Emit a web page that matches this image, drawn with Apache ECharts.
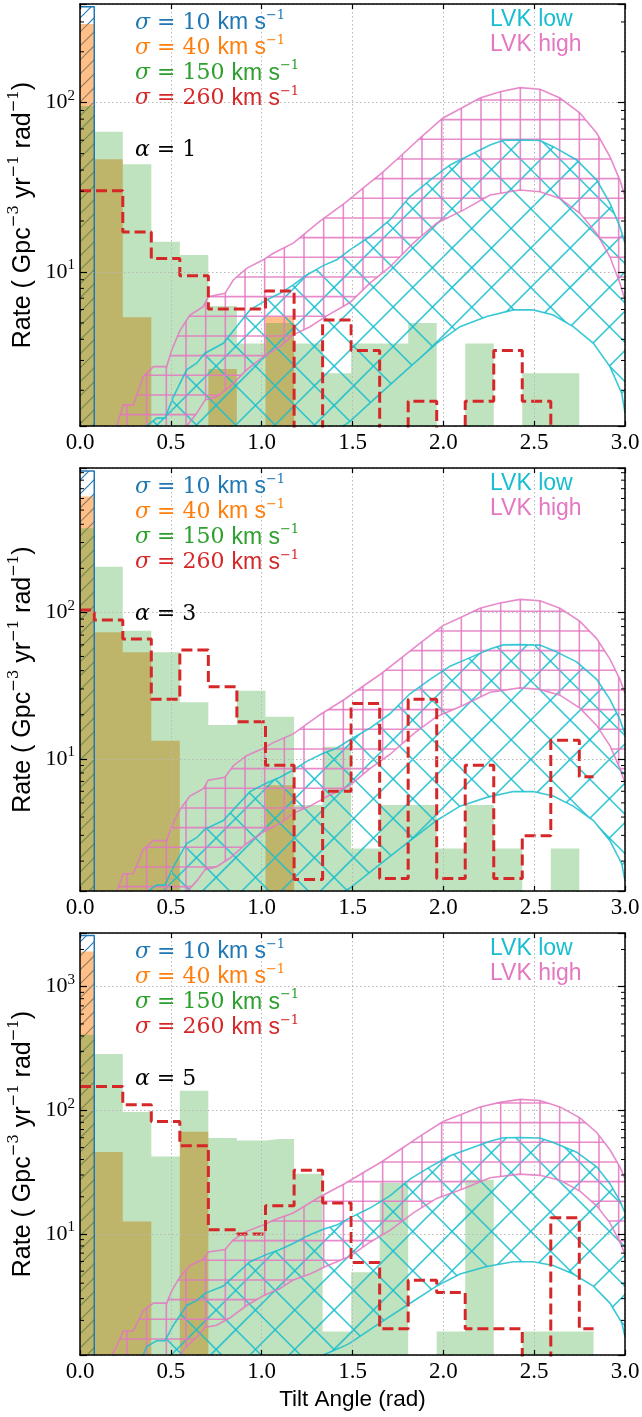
<!DOCTYPE html>
<html><head><meta charset="utf-8">
<script src="https://cdn.jsdelivr.net/npm/echarts@6/dist/echarts.min.js"></script>
<style>html,body{margin:0;padding:0;background:#fff}#c{width:642px;height:1417px}</style>
</head><body><div id="c"></div>
<script>
// ---------------- DATA ----------------
const binCenters = [0, 0.157, 0.314, 0.471, 0.628, 0.785, 0.942, 1.100, 1.257, 1.414, 1.571, 1.728, 1.885, 2.042, 2.199, 2.356, 2.513, 2.670, 2.827];
const sigmaValues = ['10', '40', '150', '260'];
const alphaValues = ['1', '3', '5'];
const yMinByPanel = [1.23, 1.25, 1.05];
const yMaxByPanel = [383, 969, 2718];
const minorTickValues = [2,3,4,5,6,7,8,9,20,30,40,50,60,70,80,90,200,300,400,500,600,700,800,900,2000];

// alpha = 1
const blueA1   = [369, 0,0,0,0,0,0,0,0,0,0,0,0,0,0,0,0,0,0];
const orangeA1 = [292, 46.3, 5.4, 0, 0, 2.67, 0, 5.44, 0,0,0,0,0,0,0,0,0,0,0];
const greenA1  = [95.6, 67.4, 43.3, 15.1, 12.6, 6.3, 3.78, 5.0, 3.78, 2.52, 3.78, 3.78, 5.0, 0, 3.78, 0, 2.52, 2.52, 0];
const redA1    = [30.2, 30.2, 17.2, 12.0, 9.5, 6.05, 6.05, 7.72, 0, 5.2, 3.43, 0, 1.72, 0, 1.72, 3.43, 1.72, 0, 0];
// alpha = 3
const blueA3   = [925, 0,0,0,0,0,0,0,0,0,0,0,0,0,0,0,0,0,0];
const orangeA3 = [618, 73.1, 53.4, 13.3, 0, 0, 0, 6.6, 0,0,0,0,0,0,0,0,0,0,0];
const greenA3  = [376, 205, 75, 53.4, 24.3, 17, 29.2, 19.4, 4.83, 12.1, 2.44, 4.83, 4.83, 2.44, 4.83, 2.44, 0, 2.44, 0];
const redA3    = [104, 88.7, 65.8, 25.5, 55.3, 31, 17.9, 9.05, 1.5, 6.01, 23.9, 1.52, 25.5, 1.52, 9.05, 1.52, 2.98, 13.4, 7.53];
// alpha = 5
const blueA5   = [2594, 0,0,0,0,0,0,0,0,0,0,0,0,0,0,0,0,0,0];
const orangeA5 = [1926, 46, 12.6, 0, 67.1, 0,0,0,0,0,0,0,0,0,0,0,0,0,0];
const greenA5  = [408, 285, 96.9, 42.4, 144, 59.7, 57.1, 58.6, 30.7, 1.63, 4.9, 25.8, 0, 1.63, 27.5, 0, 1.63, 1.63, 1.63];
const redA5    = [156, 156, 111, 81.3, 51.8, 10.8, 10.0, 16.9, 32.7, 17.8, 5.89, 1.71, 4.22, 3.37, 1.71, 1.71, 0, 13.5, 1.71];

// LVK bands (tilt angle, rate)
const lvkHighUpperX = [0.10, 0.174, 0.202, 0.238, 0.293, 0.349, 0.404, 0.477, 0.505, 0.55, 0.605, 0.679, 0.706, 0.798, 0.844, 0.917, 1.009, 1.064, 1.174, 1.321, 1.459, 1.558, 1.661, 1.771, 1.881, 1.998, 2.101, 2.202, 2.312, 2.422, 2.532, 2.642, 2.752, 2.844, 2.917, 2.972, 3.0];
const lvkHighUpperY = [0.5, 1.05, 1.23, 1.64, 1.64, 2.41, 2.76, 2.76, 3.46, 4.5, 5.57, 6.24, 7.15, 7.48, 8.97, 10.5, 11.8, 12.9, 14.8, 20, 25.6, 31.3, 38.4, 49.1, 63, 81.2, 93, 106.6, 116, 122.7, 120, 106.6, 86.9, 66.2, 48, 34.9, 28];
const lvkHighLowerX = [0.45, 0.55, 0.587, 0.642, 0.688, 0.752, 0.826, 0.917, 1.009, 1.101, 1.174, 1.266, 1.358, 1.486, 1.596, 1.706, 1.835, 1.963, 2.11, 2.257, 2.422, 2.532, 2.642, 2.752, 2.844, 2.917, 2.972, 3.0];
const lvkHighLowerY = [0.6, 1.05, 1.23, 1.46, 1.75, 1.83, 2.1, 2.64, 3.16, 3.62, 4.25, 4.75, 5.5, 6.6, 8.58, 10.7, 14.8, 19.4, 23.2, 28.5, 30.5, 29.8, 27.2, 22.2, 16.9, 12.3, 8.58, 6.84];
const lvkLowUpperX = [0.25, 0.348, 0.367, 0.422, 0.468, 0.514, 0.587, 0.642, 0.688, 0.789, 0.862, 0.936, 1.028, 1.101, 1.174, 1.248, 1.339, 1.413, 1.486, 1.596, 1.706, 1.816, 1.927, 2.037, 2.147, 2.257, 2.33, 2.42, 2.532, 2.605, 2.734, 2.844, 2.917, 2.972, 3.0];
const lvkLowUpperY = [0.6, 1.05, 1.23, 1.37, 1.37, 1.83, 2.64, 2.89, 3.31, 3.79, 4.75, 5.97, 6.84, 7.48, 8.38, 9.6, 10.9, 11.8, 13.5, 16.2, 20.3, 27.8, 34.9, 42.9, 49.1, 56.2, 60, 60.2, 59.8, 55, 45.9, 34.9, 25.5, 18.5, 14.8];
const lvkLowLowerX = [0.9, 1.1, 1.2, 1.339, 1.459, 1.486, 1.633, 1.798, 1.963, 2.092, 2.239, 2.385, 2.495, 2.605, 2.715, 2.826, 2.917, 2.982, 3.0];
const lvkLowLowerY = [0.45, 0.68, 0.8, 1.05, 1.25, 1.31, 1.83, 2.64, 3.79, 4.75, 5.45, 5.97, 5.97, 5.57, 4.75, 3.79, 2.76, 1.92, 1.47];

// ---------------- STYLE / LAYOUT ----------------
const panels = [
  {blue: blueA1, orange: orangeA1, green: greenA1, red: redA1},
  {blue: blueA3, orange: orangeA3, green: greenA3, red: redA3},
  {blue: blueA5, orange: orangeA5, green: greenA5, red: redA5}
];
const gridTops = [4, 468, 933];
const gridHeights = [422, 423, 422];
const GL = 80, GW = 545;
const sigmaColors = ['#1f77b4', '#ff7f0e', '#2ca02c', '#d62728'];
const SERIF = '"Liberation Serif", "DejaVu Serif", serif';
const MATH = '"DejaVu Serif", serif';
const SANS = '"Liberation Sans", Arial, sans-serif';

function makeTile(size, draw) {
  const c = document.createElement('canvas');
  c.width = size; c.height = size;
  const g = c.getContext('2d');
  draw(g);
  return {image: c, repeat: 'repeat'};
}
const P = 59 / 3;
const pinkHatch = makeTile(59, g => {
  g.strokeStyle = 'rgba(227,119,194,0.85)'; g.lineWidth = 1.6;
  for (let k = 0; k < 3; k++) {
    const x = 9.0 + k * P, y = 1.6 + k * P;
    g.beginPath(); g.moveTo(x, 0); g.lineTo(x, 59); g.stroke();
    g.beginPath(); g.moveTo(0, y); g.lineTo(59, y); g.stroke();
  }
});
const Q = 2 * P;
const cyanHatch = makeTile(118, g => {
  g.strokeStyle = 'rgba(23,190,207,0.85)'; g.lineWidth = 1.6;
  for (let k = -6; k <= 9; k++) {
    const c = 7.4 + k * Q;
    g.beginPath(); g.moveTo(-5, -5 - c); g.lineTo(123, 123 - c); g.stroke();
    const d = 31.5 + k * Q;
    g.beginPath(); g.moveTo(-5, d + 5); g.lineTo(123, d - 123); g.stroke();
  }
});
const blueHatch = makeTile(42, g => {
  g.strokeStyle = '#1f77b4'; g.lineWidth = 1.2;
  for (let k = -2; k <= 8; k++) {
    const d = k * 14;
    g.beginPath(); g.moveTo(-5, d + 5); g.lineTo(47, d - 47); g.stroke();
  }
});

const FLOOR = 0.01;
function stepData(vals) { return binCenters.map((c, i) => [c, vals[i] > 0 ? vals[i] : FLOOR]); }

function powLabel(v) {
  const e = Math.log10(v), r = Math.round(e);
  if (Math.abs(e - r) > 1e-6) return '';
  return '10{p|' + r + '}';
}

function lvkRender(params, api) {
  const cs = params.coordSys;
  const pts = (xs, ys) => xs.map((x, i) => api.coord([x, ys[i]]));
  const lu = pts(lvkLowUpperX, lvkLowUpperY), ll = pts(lvkLowLowerX, lvkLowLowerY);
  const hu = pts(lvkHighUpperX, lvkHighUpperY), hl = pts(lvkHighLowerX, lvkHighLowerY);
  const cyanLine = 'rgba(23,190,207,0.85)', pinkLine = 'rgba(227,119,194,0.85)';
  return {
    type: 'group',
    clipPath: {type: 'rect', shape: {x: cs.x, y: cs.y, width: cs.width, height: cs.height}},
    children: [
      {type: 'polygon', shape: {points: lu.concat(ll.slice().reverse())}, style: {fill: cyanHatch, stroke: null}},
      {type: 'polygon', shape: {points: hu.concat(hl.slice().reverse())}, style: {fill: pinkHatch, stroke: null}},
      {type: 'polyline', shape: {points: lu}, style: {stroke: cyanLine, lineWidth: 1.6, fill: null}},
      {type: 'polyline', shape: {points: ll}, style: {stroke: cyanLine, lineWidth: 1.6, fill: null}},
      {type: 'polyline', shape: {points: hu}, style: {stroke: pinkLine, lineWidth: 1.6, fill: null}},
      {type: 'polyline', shape: {points: hl}, style: {stroke: pinkLine, lineWidth: 1.6, fill: null}}
    ]
  };
}

function minorTickRender(params, api) {
  const v = api.value(1);
  const l = api.coord([0, v]), r = api.coord([3, v]);
  return {type: 'group', children: [
    {type: 'line', shape: {x1: l[0], y1: l[1], x2: l[0] + 4, y2: l[1]}, style: {stroke: '#000', lineWidth: 1}},
    {type: 'line', shape: {x1: r[0] - 4, y1: r[1], x2: r[0], y2: r[1]}, style: {stroke: '#000', lineWidth: 1}}
  ]};
}

const grid = [], xAxis = [], yAxis = [], series = [], graphic = [];
const gridLineStyle = {color: '#b8b8b8', width: 1, type: [1.5, 2.5]};
panels.forEach((p, i) => {
  grid.push({left: GL, top: gridTops[i], width: GW, height: gridHeights[i], containLabel: false, outerBoundsMode: 'none'});
  xAxis.push({
    gridIndex: i, type: 'value', min: 0, max: 3, interval: 0.5, position: 'bottom', z: 10,
    axisLine: {show: true, onZero: false, lineStyle: {color: '#000', width: 1.5}},
    axisTick: {show: true, inside: true, length: 5, lineStyle: {color: '#000', width: 1.2}},
    axisLabel: {show: true, margin: 5, formatter: v => v.toFixed(1), fontFamily: SERIF, fontSize: 23, color: '#000', showMinLabel: true, showMaxLabel: true},
    splitLine: {show: true, lineStyle: gridLineStyle},
    name: i === 2 ? 'Tilt Angle (rad)' : '', nameLocation: 'middle', nameGap: 33, nameMoveOverlap: false,
    nameTextStyle: {fontFamily: SANS, fontSize: 22.5, color: '#000'}
  });
  xAxis.push({
    gridIndex: i, type: 'value', min: 0, max: 3, interval: 0.5, position: 'top', z: 10,
    axisLine: {show: true, onZero: false, lineStyle: {color: '#000', width: 1.5}},
    axisTick: {show: true, inside: true, length: 5, lineStyle: {color: '#000', width: 1.2}},
    axisLabel: {show: false}, splitLine: {show: false}
  });
  yAxis.push({
    gridIndex: i, type: 'log', logBase: 10, min: yMinByPanel[i], max: yMaxByPanel[i], position: 'left', z: 10,
    axisLine: {show: true, onZero: false, lineStyle: {color: '#000', width: 1.5}},
    axisTick: {show: true, inside: true, length: 7, lineStyle: {color: '#000', width: 1.2}},
    axisLabel: {show: true, margin: 5, formatter: powLabel, fontFamily: SERIF, fontSize: 22, lineHeight: 28, color: '#000',
      rich: {p: {fontFamily: SERIF, fontSize: 15, lineHeight: 12, verticalAlign: 'top', color: '#000'}}},
    splitLine: {show: true, lineStyle: gridLineStyle},
    name: 'Rate ( Gpc{p|−3} yr{p|−1} rad{p|−1})', nameLocation: 'middle', nameRotate: 90, nameGap: 41, nameMoveOverlap: false,
    nameTextStyle: {fontFamily: SANS, fontSize: 25, lineHeight: 32, color: '#000',
      rich: {p: {fontFamily: MATH, fontSize: 15, lineHeight: 14, verticalAlign: 'top', color: '#000'}}}
  });
  yAxis.push({
    gridIndex: i, type: 'log', logBase: 10, min: yMinByPanel[i], max: yMaxByPanel[i], position: 'right', z: 10,
    axisLine: {show: true, onZero: false, lineStyle: {color: '#000', width: 1.5}},
    axisTick: {show: true, inside: true, length: 7, lineStyle: {color: '#000', width: 1.2}},
    axisLabel: {show: false}, splitLine: {show: false}
  });
  const xi = 2 * i, yi = 2 * i;
  const base = {type: 'line', xAxisIndex: xi, yAxisIndex: yi, step: 'middle', symbol: 'none', showSymbol: false, clip: true, silent: true};
  series.push(Object.assign({}, base, {z: 2, data: stepData(p.blue),
    lineStyle: {color: '#1f77b4', width: 1.5}, areaStyle: {color: blueHatch, opacity: 1, origin: 'start'}}));
  series.push(Object.assign({}, base, {z: 2, data: stepData(p.orange),
    lineStyle: {width: 0, opacity: 0}, areaStyle: {color: 'rgba(255,127,14,0.5)', opacity: 1, origin: 'start'}}));
  series.push(Object.assign({}, base, {z: 2, data: stepData(p.green),
    lineStyle: {width: 0, opacity: 0}, areaStyle: {color: 'rgba(44,160,44,0.3)', opacity: 1, origin: 'start'}}));
  series.push({type: 'custom', xAxisIndex: xi, yAxisIndex: yi, z: 3, silent: true, clip: true,
    renderItem: lvkRender, data: [[1.5, 10]]});
  series.push(Object.assign({}, base, {z: 4, data: stepData(p.red),
    lineStyle: {color: '#d62728', width: 3, type: [11, 5]}}));
  series.push({type: 'custom', xAxisIndex: xi, yAxisIndex: yi, z: 12, silent: true,
    renderItem: minorTickRender,
    data: minorTickValues.filter(v => v > yMinByPanel[i] && v < yMaxByPanel[i]).map(v => [0, v])});

  const T = gridTops[i];
  sigmaValues.forEach((s, j) => {
    const col = sigmaColors[j];
    graphic.push({type: 'text', x: 135, y: T + 18.8 + 25.3 * j, z: 100, silent: true,
      style: {text: '{g|σ}{n| = ' + s + ' }{s|km s}{p|−1}', fill: col, align: 'left', verticalAlign: 'middle',
        rich: {
          g: {fontFamily: MATH, fontStyle: 'italic', fontSize: 22, lineHeight: 28, fill: col},
          n: {fontFamily: MATH, fontSize: 22, lineHeight: 28, fill: col},
          s: {fontFamily: SANS, fontSize: 23, lineHeight: 28, fill: col},
          p: {fontFamily: MATH, fontSize: 13, lineHeight: 12, verticalAlign: 'top', fill: col}
        }}});
  });
  graphic.push({type: 'text', x: 135, y: T + 146, z: 100, silent: true,
    style: {text: '{g|α}{n| = ' + alphaValues[i] + '}', fill: '#000', align: 'left', verticalAlign: 'middle',
      rich: {
        g: {fontFamily: MATH, fontStyle: 'italic', fontSize: 22, lineHeight: 28, fill: '#000'},
        n: {fontFamily: MATH, fontSize: 22, lineHeight: 28, fill: '#000'}
      }}});
  graphic.push({type: 'text', x: 490, y: T + 16, z: 100, silent: true,
    style: {text: 'LVK low', fill: '#17becf', fontFamily: SANS, fontSize: 23, align: 'left', verticalAlign: 'middle'}});
  graphic.push({type: 'text', x: 490, y: T + 41, z: 100, silent: true,
    style: {text: 'LVK high', fill: '#e377c2', fontFamily: SANS, fontSize: 23, align: 'left', verticalAlign: 'middle'}});
});

const chart = echarts.init(document.getElementById('c'), null, {renderer: 'canvas', width: 642, height: 1417, devicePixelRatio: 1});
chart.setOption({animation: false, backgroundColor: '#fff', grid, xAxis, yAxis, series, graphic});
</script></body></html>
